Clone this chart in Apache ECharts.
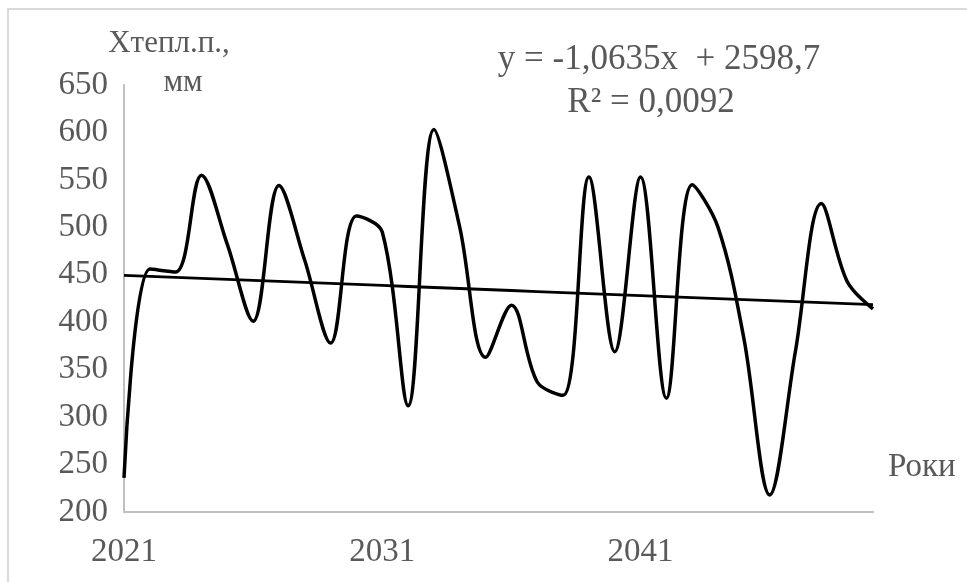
<!DOCTYPE html>
<html>
<head>
<meta charset="utf-8">
<script src="https://cdn.jsdelivr.net/npm/echarts@6/dist/echarts.min.js"></script>
<style>
  html, body { margin: 0; padding: 0; background: #ffffff; }
  #chart { width: 967px; height: 582px; }
</style>
</head>
<body>
<div id="chart"></div>
<script>
// Years of the series
const years = [
  '2021', '2022', '2023', '2024', '2025', '2026', '2027', '2028', '2029', '2030',
  '2031', '2032', '2033', '2034', '2035', '2036', '2037', '2038', '2039', '2040',
  '2041', '2042', '2043', '2044', '2045', '2046', '2047', '2048', '2049', '2050'
];

// Precipitation of the warm period, mm
const precip = [
  236, 456, 453, 555, 482, 401, 544, 465, 378, 512,
  495, 312, 603, 500, 363, 418, 337, 323, 553, 369,
  553, 320, 545, 500, 383, 218, 370, 525, 443, 414
];

// Linear trend coefficients (y = a*x + b)
const trendSlope = -1.0635;
const trendIntercept = 2598.7;
const trendR2Text = '0,0092';

// Value axis range
const yMin = 200;
const yMax = 650;
const yStep = 50;

const trendValues = years.map(y => trendSlope * Number(y) + trendIntercept);

const FONT = "'Liberation Serif', 'DejaVu Serif', serif";
const TEXT_COLOR = '#595959';
const AXIS_COLOR = '#bfbfbf';

const chart = echarts.init(document.getElementById('chart'), null, { renderer: 'canvas' });

chart.setOption({
  animation: false,
  backgroundColor: '#ffffff',
  grid: { left: 124, right: 94, top: 85, bottom: 70, containLabel: false },
  xAxis: {
    type: 'category',
    data: years,
    boundaryGap: false,
    axisLine: { show: true, lineStyle: { color: AXIS_COLOR, width: 2 } },
    axisTick: { show: false },
    axisLabel: {
      interval: 9,
      fontFamily: FONT,
      fontSize: 33,
      color: TEXT_COLOR,
      margin: 24
    },
    splitLine: { show: false }
  },
  yAxis: {
    type: 'value',
    min: yMin,
    max: yMax,
    interval: yStep,
    axisLine: { show: true, lineStyle: { color: AXIS_COLOR, width: 2 } },
    axisTick: { show: false },
    axisLabel: {
      fontFamily: FONT,
      fontSize: 33,
      color: TEXT_COLOR,
      margin: 16
    },
    splitLine: { show: false }
  },
  series: [
    {
      name: 'Хтепл.п.',
      type: 'line',
      data: precip,
      smooth: 0.35,
      symbol: 'none',
      lineStyle: { color: '#000000', width: 3.5 },
      z: 3
    },
    {
      name: 'trend',
      type: 'line',
      data: trendValues,
      smooth: false,
      symbol: 'none',
      lineStyle: { color: '#000000', width: 2.8 },
      z: 2
    }
  ],
  graphic: [
    {
      type: 'rect',
      shape: { x: 8, y: 9, width: 1000, height: 700 },
      style: { fill: 'none', stroke: '#d9d9d9', lineWidth: 2 },
      silent: true,
      z: -1
    },
    {
      type: 'text',
      x: 169, y: 44,
      style: {
        text: 'Хтепл.п.,',
        font: '31px ' + FONT,
        fill: TEXT_COLOR,
        textAlign: 'center',
        textVerticalAlign: 'middle'
      }
    },
    {
      type: 'text',
      x: 183, y: 83,
      style: {
        text: 'мм',
        font: '31px ' + FONT,
        fill: TEXT_COLOR,
        textAlign: 'center',
        textVerticalAlign: 'middle'
      }
    },
    {
      type: 'text',
      x: 659, y: 60,
      style: {
        text: 'y = -1,0635x  + 2598,7',
        font: '35px ' + FONT,
        fill: TEXT_COLOR,
        textAlign: 'center',
        textVerticalAlign: 'middle'
      }
    },
    {
      type: 'text',
      x: 651, y: 103,
      style: {
        text: 'R² = ' + trendR2Text,
        font: '35px ' + FONT,
        fill: TEXT_COLOR,
        textAlign: 'center',
        textVerticalAlign: 'middle'
      }
    },
    {
      type: 'text',
      x: 888, y: 467,
      style: {
        text: 'Роки',
        font: '33px ' + FONT,
        fill: TEXT_COLOR,
        textAlign: 'left',
        textVerticalAlign: 'middle'
      }
    }
  ]
});
</script>
</body>
</html>
